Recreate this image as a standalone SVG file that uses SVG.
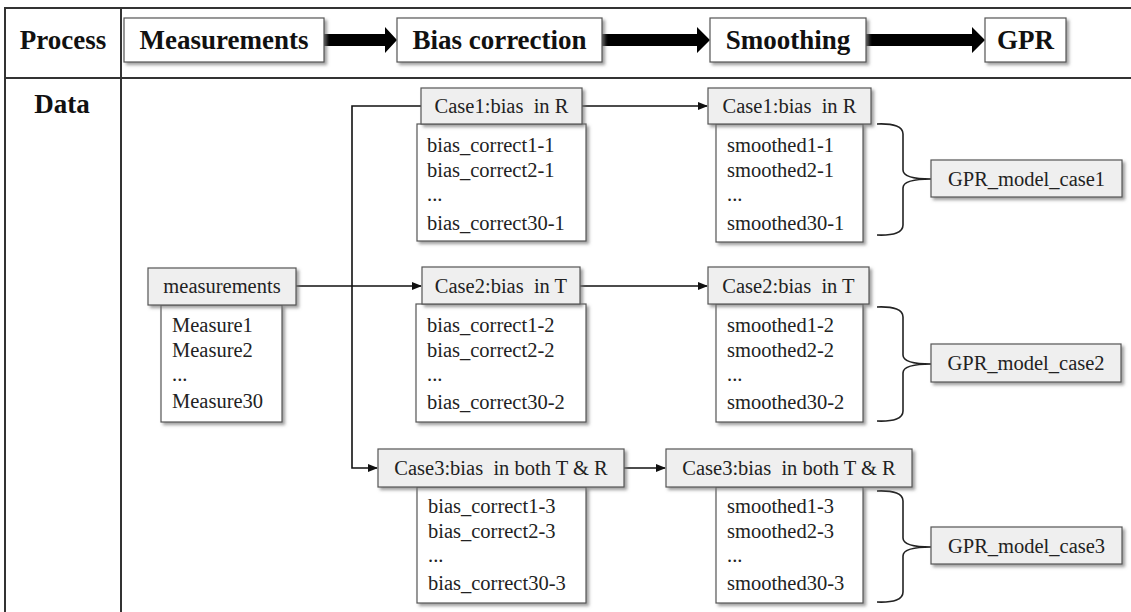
<svg xmlns="http://www.w3.org/2000/svg" width="1131" height="612" viewBox="0 0 1131 612">
<style>
.grid{stroke:#333;stroke-width:2;fill:none}
.pbox{fill:#fff;stroke:#555;stroke-width:1.2;filter:url(#sh)}
.hbox{fill:#efefef;stroke:#555;stroke-width:1.2;filter:url(#sh)}
.bbox{fill:#fff;stroke:#555;stroke-width:1.2;filter:url(#sh)}
.ptxt{font-family:'Liberation Serif',Tinos,'Times New Roman','DejaVu Serif',serif;font-weight:bold;font-size:27px;fill:#111}
.t{font-family:'Liberation Serif',Tinos,'Times New Roman','DejaVu Serif',serif;font-size:20.5px;fill:#222;white-space:pre}
.c{text-anchor:middle}
.conn{stroke:#111;stroke-width:1.6;fill:none}
.brace{stroke:#222;stroke-width:1.6;fill:none}
.thick{fill:#000}
</style>
<defs>
<filter id="sh" x="-10%" y="-10%" width="130%" height="140%">
<feDropShadow dx="2.5" dy="2.5" stdDeviation="1.5" flood-color="#777" flood-opacity="0.7"/>
</filter>
<marker id="ah" markerWidth="10" markerHeight="8" refX="9" refY="4" orient="auto" markerUnits="userSpaceOnUse">
<path d="M0,0 L10,4 L0,8 Z" fill="#111"/>
</marker>
</defs>
<rect width="1131" height="612" fill="#fff"/>
<g id="table">
<line class="grid" x1="4" y1="8" x2="1131" y2="8"/>
<line class="grid" x1="4" y1="78" x2="1131" y2="78"/>
<line class="grid" x1="5" y1="8" x2="5" y2="612"/>
<line class="grid" x1="121" y1="8" x2="121" y2="612"/>
<text class="ptxt" x="63" y="49" text-anchor="middle">Process</text>
<text class="ptxt" x="62" y="113" text-anchor="middle">Data</text>
</g>
<g id="process-arrows">
<polygon class="thick" points="324,34 385,34 385,27 397,40 385,53 385,46 324,46"/>
<polygon class="thick" points="602,34 697,34 697,27 710,40 697,53 697,46 602,46"/>
<polygon class="thick" points="866,34 972,34 972,27 985,40 972,53 972,46 866,46"/>
</g>
<g id="p-measurements"><rect class="pbox" x="124" y="18" width="200" height="44"/><text class="ptxt c" x="224" y="49">Measurements</text></g>
<g id="p-bias"><rect class="pbox" x="397" y="18" width="205" height="44"/><text class="ptxt c" x="499.5" y="49">Bias correction</text></g>
<g id="p-smoothing"><rect class="pbox" x="710" y="18" width="156" height="44"/><text class="ptxt c" x="788" y="49">Smoothing</text></g>
<g id="p-gpr"><rect class="pbox" x="985" y="18" width="81" height="44"/><text class="ptxt c" x="1025.5" y="49">GPR</text></g>

<g id="connectors">
<line class="conn" x1="296" y1="286" x2="421" y2="286" marker-end="url(#ah)"/>
<polyline class="conn" points="421,106 352,106 352,468 377,468" marker-end="url(#ah)"/>
<line class="conn" x1="582" y1="106" x2="707" y2="106" marker-end="url(#ah)"/>
<line class="conn" x1="580" y1="286" x2="707" y2="286" marker-end="url(#ah)"/>
<line class="conn" x1="624" y1="468" x2="665" y2="468" marker-end="url(#ah)"/>
<path class="brace" d="M877,124 Q903,123 903,134 L903,170 Q903,179 931,179 Q903,179 903,188 L903,225 Q903,236 877,235"/>
<path class="brace" d="M877,307 Q903,306 903,317 L903,355 Q903,364 931,364 Q903,364 903,373 L903,411 Q903,422 877,421"/>
<path class="brace" d="M877,491 Q903,490 903,501 L903,538 Q903,547 931,547 Q903,547 903,556 L903,592 Q903,603 877,602"/>
</g>

<g id="measurements">
<rect class="bbox" x="161" y="305" width="121" height="117"/>
<rect class="hbox" x="148" y="268" width="148" height="37"/>
<text class="t c" x="222" y="293">measurements</text>
<text class="t" x="172" y="332">Measure1</text>
<text class="t" x="172" y="357">Measure2</text>
<text class="t" x="172" y="381">...</text>
<text class="t" x="172" y="408">Measure30</text>
</g>

<g id="bias-case1">
<rect class="bbox" x="417" y="124" width="169" height="117"/>
<rect class="hbox" x="421" y="88" width="161" height="36"/>
<text class="t c" x="501.5" y="113">Case1:bias  in R</text>
<text class="t" x="427" y="152">bias_correct1-1</text>
<text class="t" x="427" y="177">bias_correct2-1</text>
<text class="t" x="427" y="201">...</text>
<text class="t" x="427" y="230">bias_correct30-1</text>
</g>
<g id="bias-case2">
<rect class="bbox" x="416" y="304" width="170" height="118"/>
<rect class="hbox" x="422" y="267" width="158" height="37"/>
<text class="t c" x="501" y="293">Case2:bias  in T</text>
<text class="t" x="427" y="332">bias_correct1-2</text>
<text class="t" x="427" y="357">bias_correct2-2</text>
<text class="t" x="427" y="381">...</text>
<text class="t" x="427" y="409">bias_correct30-2</text>
</g>
<g id="bias-case3">
<rect class="bbox" x="417" y="487" width="169" height="116"/>
<rect class="hbox" x="378" y="449" width="246" height="38"/>
<text class="t c" x="501" y="475">Case3:bias  in both T &amp; R</text>
<text class="t" x="428" y="513">bias_correct1-3</text>
<text class="t" x="428" y="538">bias_correct2-3</text>
<text class="t" x="428" y="562">...</text>
<text class="t" x="428" y="590">bias_correct30-3</text>
</g>

<g id="smooth-case1">
<rect class="bbox" x="716" y="124" width="147" height="118"/>
<rect class="hbox" x="708" y="88" width="163" height="36"/>
<text class="t c" x="789.5" y="113">Case1:bias  in R</text>
<text class="t" x="727" y="152">smoothed1-1</text>
<text class="t" x="727" y="177">smoothed2-1</text>
<text class="t" x="727" y="201">...</text>
<text class="t" x="727" y="230">smoothed30-1</text>
</g>
<g id="smooth-case2">
<rect class="bbox" x="716" y="304" width="147" height="118"/>
<rect class="hbox" x="708" y="267" width="161" height="37"/>
<text class="t c" x="788.5" y="293">Case2:bias  in T</text>
<text class="t" x="727" y="332">smoothed1-2</text>
<text class="t" x="727" y="357">smoothed2-2</text>
<text class="t" x="727" y="381">...</text>
<text class="t" x="727" y="409">smoothed30-2</text>
</g>
<g id="smooth-case3">
<rect class="bbox" x="716" y="487" width="147" height="116"/>
<rect class="hbox" x="666" y="449" width="246" height="38"/>
<text class="t c" x="789" y="475">Case3:bias  in both T &amp; R</text>
<text class="t" x="727" y="513">smoothed1-3</text>
<text class="t" x="727" y="538">smoothed2-3</text>
<text class="t" x="727" y="562">...</text>
<text class="t" x="727" y="590">smoothed30-3</text>
</g>

<g id="gpr-case1"><rect class="hbox" x="931" y="160" width="191" height="37"/><text class="t c" x="1026.5" y="186">GPR_model_case1</text></g>
<g id="gpr-case2"><rect class="hbox" x="931" y="344" width="190" height="38"/><text class="t c" x="1026" y="370">GPR_model_case2</text></g>
<g id="gpr-case3"><rect class="hbox" x="931" y="527" width="191" height="37"/><text class="t c" x="1026.5" y="553">GPR_model_case3</text></g>
</svg>
